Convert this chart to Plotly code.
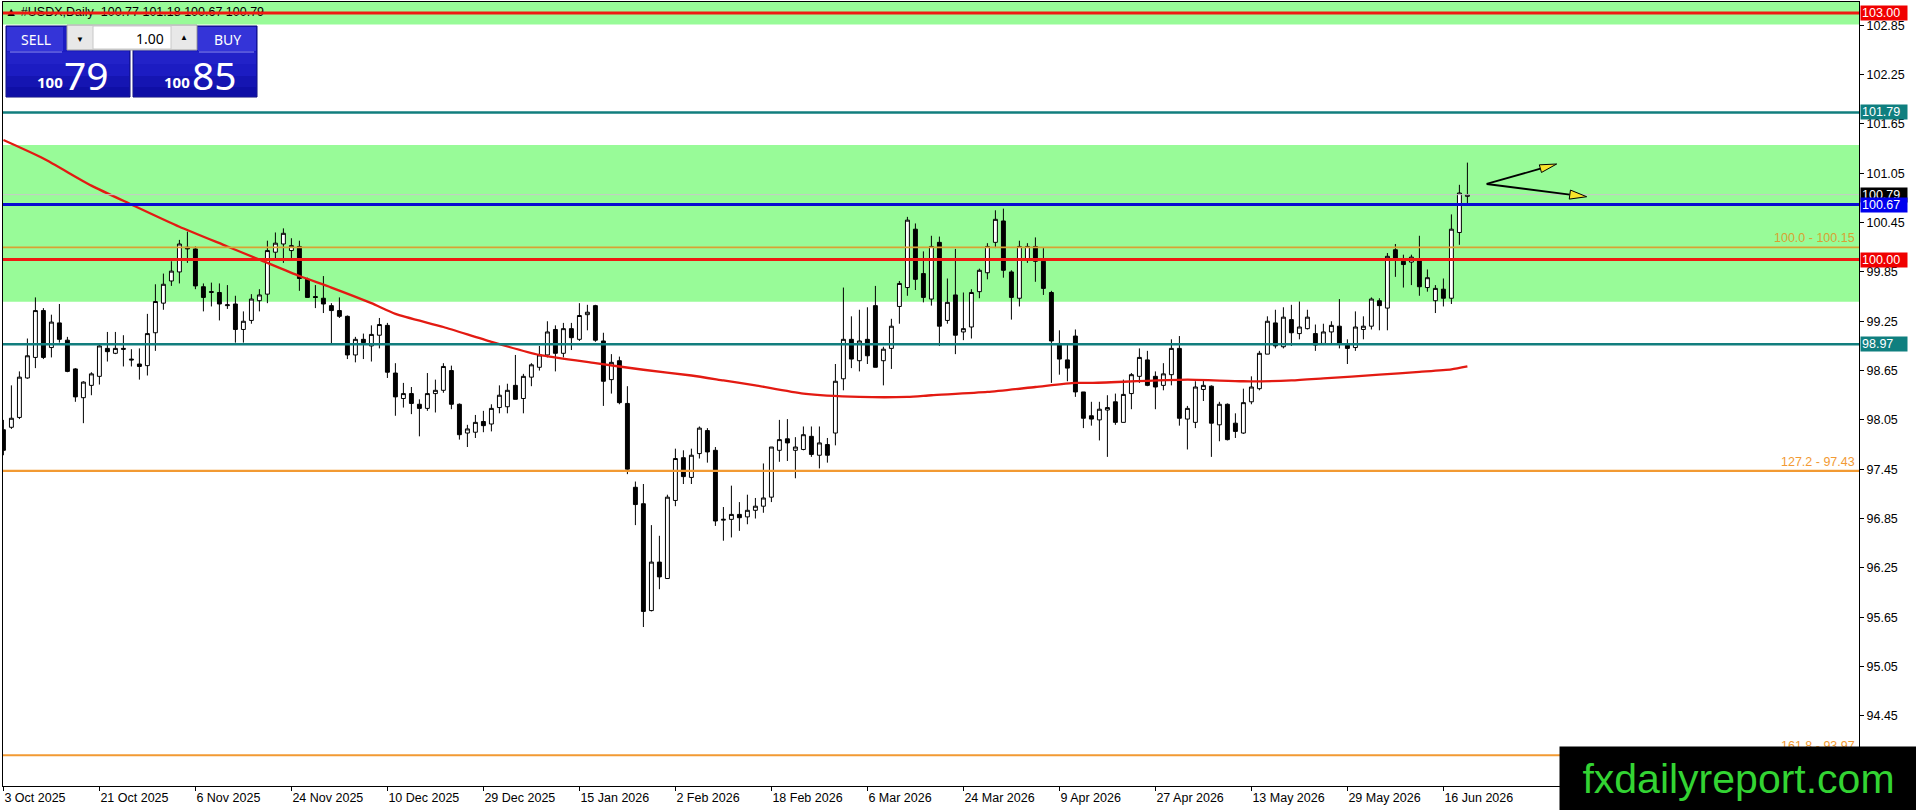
import pandas as pd
import plotly.graph_objects as go

# ---------------- data ----------------
holidays = ["2025-12-25", "2026-01-01"]
dates = [d for d in pd.bdate_range("2025-10-03", "2026-06-19") if d.strftime("%Y-%m-%d") not in holidays]

opens = [97.93,97.96,98.08,98.56,98.81,99.38,98.93,99.23,99.02,98.67,
         98.32,98.47,98.58,98.92,98.86,98.92,98.79,98.73,98.71,99.11,
         99.47,99.74,99.85,100.15,100.13,99.67,99.60,99.60,99.44,99.46,
         99.15,99.26,99.50,99.58,100.09,100.19,100.11,100.16,99.76,99.55,
         99.53,99.44,99.38,99.31,98.84,99.03,98.95,99.08,99.20,98.62,
         98.31,98.37,98.24,98.19,98.37,98.41,98.65,98.24,97.89,97.90,
         98.03,98.00,98.20,98.21,98.47,98.31,98.57,98.69,98.84,99.15,
         98.86,99.16,99.03,99.33,99.44,99.01,98.54,98.77,98.25,97.23,
         97.03,95.73,96.32,96.12,97.07,97.59,97.35,97.64,97.92,97.68,
         96.83,96.84,96.90,96.87,96.95,97.00,97.11,97.68,97.82,97.68,
         97.69,97.85,97.62,97.75,97.89,98.55,99.03,98.77,99.03,99.44,
         98.77,98.92,99.43,99.66,100.37,99.83,99.52,100.21,99.26,99.57,
         99.12,99.18,99.61,99.84,100.21,100.47,99.85,99.53,100.00,100.16,
         99.98,99.60,98.98,98.78,99.07,98.39,98.10,98.05,98.17,98.27,
         98.02,98.37,98.58,98.78,98.58,98.47,98.60,98.92,98.06,98.02,
         98.42,98.46,97.99,98.24,98.01,97.89,98.27,98.43,98.85,99.23,
         98.94,99.27,99.10,99.16,99.10,98.98,99.12,99.19,98.96,98.93,
         99.15,99.19,99.50,99.41,100.12,99.98,99.97,100.01,99.66,99.50,
         99.64,99.53,100.33,100.77]
highs = [98.05,98.47,98.64,99.04,99.54,99.41,99.33,99.46,99.06,98.68,
         98.52,98.63,98.97,99.12,99.12,99.08,98.91,98.92,99.34,99.70,
         99.83,99.98,100.24,100.34,100.16,99.71,99.72,99.71,99.69,99.56,
         99.37,99.58,99.64,100.23,100.33,100.38,100.26,100.23,99.78,99.69,
         99.80,99.47,99.54,99.32,99.06,99.10,99.20,99.29,99.23,98.74,
         98.50,98.45,98.30,98.62,98.54,98.74,98.71,98.25,97.99,98.11,
         98.16,98.24,98.47,98.49,98.84,98.61,98.74,98.95,99.25,99.20,
         99.23,99.23,99.47,99.45,99.45,99.11,98.85,98.82,98.46,97.30,
         97.27,96.77,96.64,97.14,97.70,97.68,97.70,97.97,97.95,97.72,
         96.99,97.25,97.05,97.14,97.10,97.52,97.72,98.05,98.06,97.84,
         97.97,97.97,97.97,97.83,98.73,99.66,99.31,99.39,99.42,99.68,
         98.94,99.28,99.74,100.52,100.44,100.10,100.29,100.28,99.77,100.13,
         99.60,99.64,99.89,100.20,100.60,100.62,99.87,100.23,100.20,100.27,
         100.14,99.62,99.14,98.98,99.15,98.39,98.27,98.27,98.35,98.37,
         98.54,98.62,98.92,98.89,98.64,98.74,99.03,99.07,98.22,98.52,
         98.54,98.47,98.27,98.25,98.13,98.43,98.58,98.89,99.31,99.39,
         99.42,99.45,99.49,99.39,99.21,99.22,99.25,99.52,99.03,99.37,
         99.31,99.54,99.53,100.08,100.19,100.06,100.06,100.29,99.88,99.69,
         99.77,100.55,100.91,101.18]
lows = [97.62,97.94,98.06,98.55,98.68,98.79,98.81,98.99,98.63,98.27,
        98.01,98.35,98.48,98.76,98.85,98.70,98.70,98.54,98.59,98.89,
        99.39,99.68,99.71,99.96,99.64,99.37,99.43,99.26,99.40,98.99,
        98.99,99.22,99.37,99.47,100.00,99.96,100.02,99.62,99.54,99.41,
        99.35,98.98,99.29,98.79,98.75,98.79,98.76,98.92,98.56,98.10,
        98.20,98.12,97.85,98.16,98.14,98.38,98.18,97.81,97.72,97.83,
        97.90,97.91,98.13,98.13,98.30,98.13,98.46,98.65,98.81,98.64,
        98.81,98.90,99.01,99.14,99.00,98.22,98.37,98.24,97.39,96.77,
        95.53,95.72,95.99,96.12,97.00,97.27,97.27,97.58,97.53,96.76,
        96.58,96.62,96.70,96.78,96.85,96.92,97.05,97.54,97.55,97.34,
        97.68,97.60,97.46,97.53,97.74,98.41,98.68,98.64,98.73,98.69,
        98.47,98.67,99.22,99.56,99.63,99.48,99.44,98.95,99.22,98.85,
        99.02,99.04,99.53,99.76,100.14,99.78,99.27,99.43,99.96,99.73,
        99.57,98.50,98.60,98.52,98.33,97.95,97.98,97.80,97.60,97.99,
        98.02,98.18,98.50,98.46,98.18,98.41,98.47,97.98,97.69,97.95,
        98.28,97.60,97.79,97.80,97.83,97.88,98.24,98.41,98.85,98.92,
        98.92,98.95,99.03,99.15,98.89,98.96,98.98,98.92,98.73,98.89,
        99.03,99.15,99.14,99.14,99.79,99.66,99.69,99.56,99.61,99.35,
        99.43,99.46,100.18,100.67]
closes = [97.68,98.07,98.57,98.83,99.38,98.81,99.24,99.03,98.64,98.33,
          98.51,98.61,98.95,98.88,98.92,98.91,98.78,98.70,99.10,99.49,
          99.70,99.86,100.19,100.13,99.68,99.54,99.61,99.46,99.45,99.15,
          99.25,99.52,99.57,100.11,100.20,100.32,100.17,99.77,99.54,99.54,
          99.46,99.38,99.31,98.84,99.03,98.99,99.09,99.21,98.63,98.33,
          98.37,98.25,98.19,98.37,98.41,98.70,98.24,97.87,97.94,98.02,
          97.98,98.19,98.35,98.41,98.30,98.58,98.72,98.84,99.12,98.86,
          99.16,99.05,99.32,99.36,99.02,98.52,98.75,98.26,97.45,97.02,
          95.72,96.32,96.14,97.11,97.58,97.36,97.62,97.95,97.66,96.82,
          96.84,96.90,96.86,96.95,97.00,97.10,97.72,97.81,97.77,97.72,
          97.87,97.63,97.77,97.62,98.52,99.03,98.79,99.01,98.83,98.69,
          98.91,99.19,99.71,100.48,99.76,99.54,100.16,99.19,99.48,99.08,
          99.16,99.60,99.87,100.16,100.49,99.87,99.54,100.16,100.16,99.98,
          99.65,99.01,98.79,98.68,98.39,98.07,98.06,98.18,98.20,98.02,
          98.36,98.60,98.81,98.47,98.45,98.61,98.92,98.07,98.19,98.45,
          98.47,98.01,98.24,97.81,97.91,98.26,98.45,98.86,99.25,98.95,
          99.30,99.11,99.18,99.30,98.96,99.12,99.20,98.98,98.92,99.18,
          99.19,99.52,99.44,100.04,100.02,99.94,100.03,99.67,99.78,99.65,
          99.53,100.37,100.81,100.79]

# moving average (read at sample bars)
ma_bar = [0,5,11,16,22,28,32,37,41,46,49,55,61,67,74,80,86,90,94,100,
          107,113,116,123,129,134,136,148,155,161,165,172,177,181,183]
ma_val = [101.455,101.23,100.90,100.67,100.40,100.16,100.00,99.80,99.66,99.47,
          99.34,99.18,99.00,98.84,98.74,98.66,98.59,98.53,98.47,98.37,
          98.33,98.33,98.35,98.39,98.45,98.50,98.50,98.54,98.52,98.53,
          98.555,98.60,98.635,98.665,98.70]

# levels
zones = [(102.86, 103.6), (99.488, 101.394)]
red_levels = [103.00, 100.00]
teal_levels = [101.79, 98.97]
blue_level = 100.67
bid_level = 100.79
fib_levels = [100.15, 97.43, 93.97]
fib_texts = ["100.0 - 100.15", "127.2 - 97.43", "161.8 - 93.97"]
fib_colors = ["#D8A232", "#F29A33", "#F29A33"]
ytick_vals = [102.85, 102.25, 101.65, 101.05, 100.45, 99.85, 99.25, 98.65,
              98.05, 97.45, 96.85, 96.25, 95.65, 95.05, 94.45, 93.85]
ohlc_title = [100.77, 101.18, 100.67, 100.79]
bid_price, ask_price = "100.79", "100.85"

# drawn arrows (bar index, price)
arrow_start = (185.41, 100.92)
arrow_heads = [  # (base centre, base a, base b, tip)
    ((192.13, 101.106), (192.26, 101.060), (191.99, 101.153), (194.16, 101.163)),
    ((195.80, 100.791), (195.73, 100.736), (195.88, 100.846), (197.91, 100.765)),
]

# ---------------- figure ----------------
W, H = 1916, 810
ML, MR, MT, MB = 3, 57, 2, 24
PW, PH = W - ML - MR, H - MT - MB
FONT = "Liberation Sans"


def PX(x):
    return (x - ML) / PW


def PY(y):
    return (H - MB - y) / PH


n = len(dates)
xs = list(range(n))

fig = go.Figure()
fig.add_trace(go.Candlestick(
    x=xs, open=opens, high=highs, low=lows, close=closes,
    increasing=dict(line=dict(color="black", width=1), fillcolor="white"),
    decreasing=dict(line=dict(color="black", width=1), fillcolor="black"),
    whiskerwidth=0, hoverinfo="skip", showlegend=False))

fig.add_trace(go.Scatter(x=ma_bar, y=ma_val, mode="lines",
                         line=dict(color="#E31A12", width=2.3, shape="spline", smoothing=0.6),
                         hoverinfo="skip", showlegend=False))

title = "\u25B2 #USDX,Daily  " + " ".join(f"{v:.2f}" for v in ohlc_title)
fig.add_trace(go.Scatter(x=[0.2], y=[103.0], mode="text", text=[title],
                         textposition="middle right",
                         textfont=dict(family=FONT, size=12.5, color="black"),
                         hoverinfo="skip", showlegend=False))

shapes = []
for y0, y1 in zones:
    shapes.append(dict(type="rect", xref="paper", x0=0, x1=1, yref="y", y0=y0, y1=y1,
                       fillcolor="#98FB98", line=dict(width=0), layer="below"))


def hline(y, color, width):
    shapes.append(dict(type="line", xref="paper", x0=0, x1=1, yref="y", y0=y, y1=y,
                       line=dict(color=color, width=width), layer="above"))


hline(bid_level, "#C8C8C8", 1)
for y, c in zip(fib_levels, fib_colors):
    hline(y, c, 2.2 if y != 100.15 else 1.7)
for y in teal_levels:
    hline(y, "#117E7E", 2.4)
hline(blue_level, "#0A0AD2", 3)
for y in red_levels:
    hline(y, "#EE1A12", 3)

# arrows
for base, ba, bb, tip in arrow_heads:
    shapes.append(dict(type="line", xref="x", yref="y", x0=arrow_start[0], y0=arrow_start[1],
                       x1=base[0], y1=base[1], line=dict(color="black", width=1.8), layer="above"))
    path = f"M {ba[0]},{ba[1]} L {tip[0]},{tip[1]} L {bb[0]},{bb[1]} Z"
    shapes.append(dict(type="path", xref="x", yref="y", path=path, fillcolor="#F7E32A",
                       line=dict(color="black", width=1), layer="above"))


# one-click trading panel
def prect(x0, y0, x1, y1, fill, line=None, lw=0):
    shapes.append(dict(type="rect", xref="paper", yref="paper",
                       x0=PX(x0), x1=PX(x1), y0=PY(y1), y1=PY(y0),
                       fillcolor=fill, line=dict(color=line or fill, width=lw), layer="above"))


for bx0, bx1 in [(6, 130), (133, 257)]:
    prect(bx0, 26, bx1, 97, "#1c1cc2", "#0a0a7a", 1)
    prect(bx0 + 1, 52, bx1 - 1, 64, "#2222c8")
    prect(bx0 + 1, 76, bx1 - 1, 87, "#1515b2")
    prect(bx0 + 1, 87, bx1 - 1, 96, "#0f0fa6")
prect(7, 27, 63, 51, "#3434d8")
prect(198, 27, 256, 51, "#3434d8")
shapes.append(dict(type="line", xref="paper", yref="paper", x0=PX(10), x1=PX(62), y0=PY(52), y1=PY(52),
                   line=dict(color="#8c8cf0", width=1), layer="above"))
shapes.append(dict(type="line", xref="paper", yref="paper", x0=PX(199), x1=PX(254), y0=PY(52), y1=PY(52),
                   line=dict(color="#8c8cf0", width=1), layer="above"))
prect(67, 25, 197, 50, "#e8e8e8", "#a0a0a0", 1)
prect(93, 26, 171, 49, "#ffffff", "#c8c8c8", 1)

annotations = []


def ptext(x, y, text, size, color="white", family="Noto Sans", xanchor="center", bold=False):
    annotations.append(dict(xref="paper", yref="paper", x=PX(x), y=PY(y), text=f"<b>{text}</b>" if bold else text,
                            showarrow=False, xanchor=xanchor, yanchor="middle",
                            font=dict(family=family, size=size, color=color)))


ptext(36, 39, "SELL", 14)
ptext(227, 39, "BUY", 14)
ptext(166, 38, "1.00", 14, color="black", xanchor="right")
ptext(80, 38, "\u25BC", 8, color="black")
ptext(184, 37, "\u25B2", 8, color="black")
ptext(50, 82, bid_price[:3], 15, bold=True)
ptext(86, 74, bid_price[4:], 39)
ptext(177, 82, ask_price[:3], 15, bold=True)
ptext(214, 74, ask_price[4:], 39)

# fib labels
for y, t, c in zip(fib_levels, fib_texts, fib_colors):
    annotations.append(dict(xref="paper", yref="y", x=1, y=y, xshift=-2, yshift=0, text=t,
                            showarrow=False, xanchor="right", yanchor="bottom",
                            font=dict(family=FONT, size=12.5, color=c)))


# price boxes on axis
def pbox(y, bg):
    annotations.append(dict(xref="paper", yref="y", x=1, y=y, xshift=1, text=f"{y:.2f}",
                            showarrow=False, xanchor="left", yanchor="middle", align="left",
                            width=44, height=12, borderpad=1, bgcolor=bg,
                            font=dict(family=FONT, size=12.5, color="white")))


pbox(103.00, "#F00000")
pbox(101.79, "#0F7F7F")
pbox(100.79, "#000000")
pbox(100.67, "#0000EE")
pbox(100.00, "#F00000")
pbox(98.97, "#0F7F7F")

# watermark
annotations.append(dict(xref="paper", yref="paper", x=PX(1559), y=PY(778.5), xanchor="left", yanchor="middle",
                        text="fxdailyreport.com", showarrow=False, width=357, height=63, borderpad=0,
                        bgcolor="black", font=dict(family=FONT, size=41, color="#33D433")))

tick_idx = list(range(0, n, 12))
tick_text = [f"{dates[i].day} {dates[i].strftime('%b %Y')}" for i in tick_idx]

fig.update_layout(
    width=W, height=H, margin=dict(l=ML, r=MR, t=MT, b=MB, pad=0),
    paper_bgcolor="white", plot_bgcolor="white", showlegend=False,
    shapes=shapes, annotations=annotations,
    xaxis=dict(range=[-0.05, (W - MR - ML - 0.4) / 8], showgrid=False, zeroline=False,
               showline=True, mirror=True, linecolor="black", linewidth=1,
               ticks="outside", ticklen=4, tickcolor="black",
               tickvals=tick_idx, ticktext=tick_text, ticklabelposition="outside right",
               tickfont=dict(family=FONT, size=12.5, color="black"),
               rangeslider=dict(visible=False), fixedrange=True),
    yaxis=dict(side="right", range=[93.596, 103.134], showgrid=False, zeroline=False,
               showline=True, mirror=True, linecolor="black", linewidth=1,
               ticks="outside", ticklen=4, tickcolor="black",
               tickvals=ytick_vals, ticktext=[f"{v:.2f}" for v in ytick_vals],
               tickfont=dict(family=FONT, size=12.5, color="black"), fixedrange=True),
)

fig.write_html("out.html", config={"displayModeBar": False},
               post_script="document.body.style.margin='0px';document.body.style.overflow='hidden';")
